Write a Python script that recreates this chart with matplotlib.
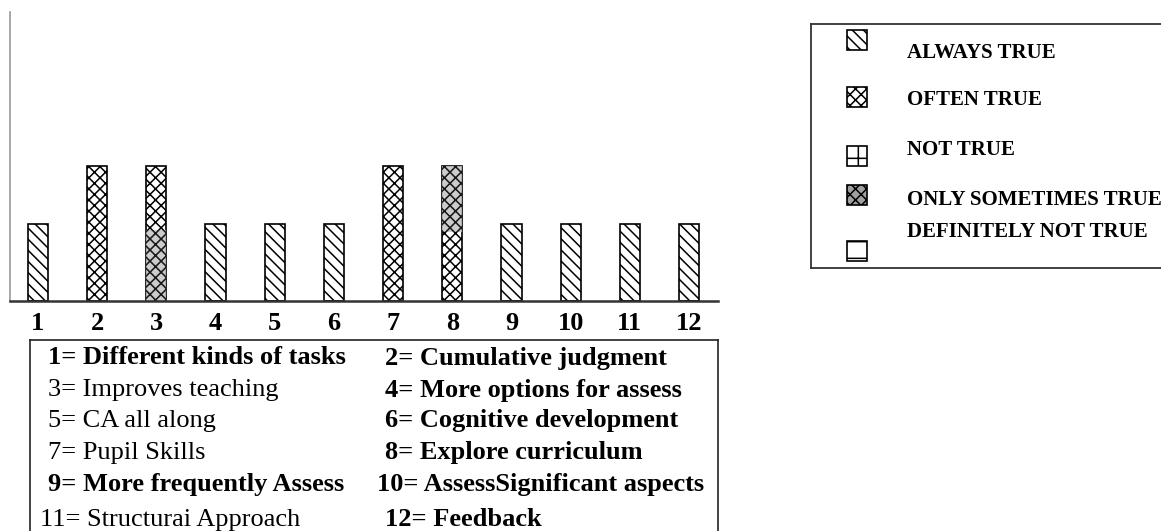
import matplotlib
matplotlib.use("Agg")
import matplotlib.pyplot as plt
from matplotlib.patches import Rectangle
from matplotlib.lines import Line2D

plt.rcParams['font.family'] = ['Liberation Serif', 'DejaVu Serif']
plt.rcParams['hatch.linewidth'] = 1.1

# data (axis has no scale, 0-15 assumed)
categories = [1, 2, 3, 4, 5, 6, 7, 8, 9, 10, 11, 12]
tick_labels = ["1", "2", "3", "4", "5", "6", "7", "8", "9", "10", "11", "12"]
always_true = [4, 0, 0, 4, 4, 4, 0, 0, 4, 4, 4, 4]
often_true = [0, 7, 7, 0, 0, 0, 7, 7, 0, 0, 0, 0]
# darker shaded part inside bars 3 and 8
sometimes_base = [0, 0, 0, 0, 0, 0, 0, 3.6, 0, 0, 0, 0]
sometimes_true = [0, 0, 3.7, 0, 0, 0, 0, 3.4, 0, 0, 0, 0]

legend_labels = ["ALWAYS TRUE", "OFTEN TRUE", "NOT TRUE",
                 "ONLY SOMETIMES TRUE", "DEFINITELY NOT TRUE"]
legend_hatch = ['\\\\\\', 'xxx', '+', 'xxx', '-']
legend_face = ['white', 'white', 'white', '#a0a0a0', 'white']

key_left = ["1= Different kinds of tasks", "3= Improves teaching", "5= CA all along",
            "7= Pupil Skills", "9= More frequently Assess", "11= Structurai Approach"]
key_right = ["2= Cumulative judgment", "4= More options for assess",
             "6= Cognitive development", "8= Explore curriculum",
             "10= AssessSignificant aspects", "12= Feedback"]

W, H = 1161, 531
fig = plt.figure(figsize=(W / 100, H / 100), dpi=100)
ax = fig.add_axes([10 / W, 1 - 301 / H, 708 / W, 289 / H])

bw = 0.34
ax.bar(categories, always_true, width=bw, color='white', edgecolor='black',
       linewidth=1.2, hatch='\\\\\\')
ax.bar(categories, often_true, width=bw, color='white', edgecolor='black',
       linewidth=1.2, hatch='xxx')
ax.bar(categories, sometimes_true, width=bw, bottom=sometimes_base, color='#c4c4c4',
       edgecolor='black', linewidth=0, hatch='xxx', alpha=0.85)

ax.set_xlim(0.527, 12.49)
ax.set_ylim(0, 15)
ax.set_yticks([])
ax.set_xticks(categories)
ax.set_xticklabels(tick_labels, fontsize=19, fontweight='bold')
ax.tick_params(axis='x', length=0, pad=8)
for s in ['top', 'right']:
    ax.spines[s].set_visible(False)
ax.spines['left'].set_color('#9a9a9a')
ax.spines['left'].set_linewidth(1.2)
ax.spines['bottom'].set_color('#333333')
ax.spines['bottom'].set_linewidth(1.8)


def fx(px):
    return px / W


def fy(py):
    return 1 - py / H


# key box below the axis (bottom edge runs off the page)
for xs, ys in [([30, 30], [340, 540]), ([30, 718], [340, 340]), ([718, 718], [340, 540])]:
    fig.add_artist(Line2D([fx(x) for x in xs], [fy(y) for y in ys], color='#222222', lw=1.2))

row_y = [358, 390, 421, 453, 485, 520]
left_weight = ['bold', 'normal', 'normal', 'normal', 'bold', 'normal']
for i in range(6):
    fig.text(fx(48 if i < 5 else 40), fy(row_y[i]), key_left[i], fontsize=19,
             fontweight=left_weight[i], va='center', ha='left')
    fig.text(fx(385 if i != 4 else 377), fy(row_y[i]), key_right[i], fontsize=19,
             fontweight='bold', va='center', ha='left')

# legend box, right side clipped by the page edge
for xs, ys in [([811, 811], [24, 268]), ([811, 1170], [24, 24]), ([811, 1170], [268, 268])]:
    fig.add_artist(Line2D([fx(x) for x in xs], [fy(y) for y in ys], color='#333333', lw=1.3))

patch_y = [40, 97, 156, 195, 251]
text_y = [53, 100, 150, 200, 232]
for i, lab in enumerate(legend_labels):
    fig.add_artist(Rectangle((fx(847), fy(patch_y[i] + 10)), 20 / W, 20 / H,
                             transform=fig.transFigure, facecolor=legend_face[i],
                             edgecolor='black', lw=1.2, hatch=legend_hatch[i]))
    fig.text(fx(907), fy(text_y[i]), lab, fontsize=15, fontweight='bold',
             va='center', ha='left')

fig.savefig("out.png", dpi=100)
